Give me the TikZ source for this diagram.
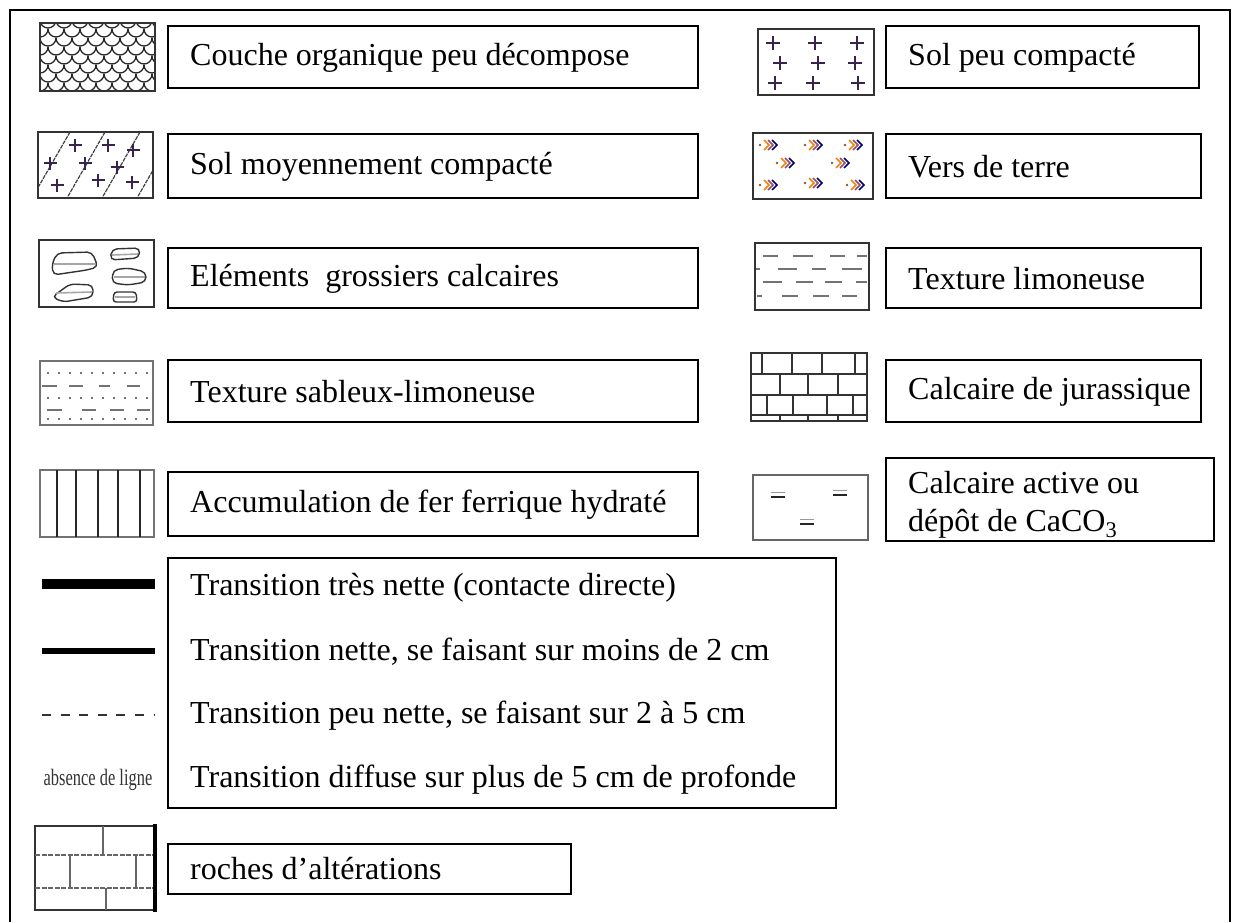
\documentclass[tikz,border=0pt]{standalone}
\usepackage{fontspec}
\setmainfont{Liberation Serif}
\begin{document}
\begin{tikzpicture}[x=1pt,y=-1pt]
\tikzset{
  box/.style={draw, line width=1.6pt, anchor=north west, inner sep=0pt},
  lbl/.style={anchor=west, inner sep=0pt, font=\fontsize{32}{38}\selectfont, align=left},
  sw/.style={draw=black!80, line width=2pt},
  swthin/.style={draw=black!55, line width=1.4pt},
  plusmark/.style={draw={rgb,255:red,55;green,35;blue,75}, line width=1.8pt},
  scale line/.style={draw=black!85, line width=1.3pt},
  diag/.style={draw=black!75, line width=1.2pt, dash pattern=on 4pt off 1pt},
  pebble/.style={draw=black!80, line width=1.4pt, rounded corners=5pt},
  pebblein/.style={draw=black!35, line width=1.6pt},
  texdash/.style={draw=black!55, line width=1.3pt},
  brick/.style={draw=black!80, line width=1.6pt},
  trans/.style={line width=#1, draw=black},
}
\useasboundingbox (0,0) rectangle (1240,922);
% outer frame
\draw[line width=1.3pt] (10,922) -- (10,10) -- (1230,10) -- (1230,922);

% ---------------- left column ----------------
% 1 organic layer (scales)
\begin{scope}
\clip (40,23) rectangle (155,91);
\foreach \r in {0,...,8}{
  \pgfmathsetmacro\off{mod(\r,2)*8}
  \foreach \i in {-1,...,8}{
    \draw[scale line] ({40+\i*16+\off},{20+\r*9}) arc[start angle=180,end angle=0,radius=8];
  }
}
\end{scope}
\draw[sw] (40,23) rectangle (155,91);
\node[box, minimum width=530pt, minimum height=62pt] (b1) at (167,25) {};
\node[lbl] (t1) at ([xshift=23pt,yshift=-1pt]b1.west) {Couche organique peu décompose};

% 2 moderately compacted
\begin{scope}
\clip (38,132) rectangle (153,198);
\foreach \k in {-2,...,4}{
  \draw[diag] ({70+35*\k},132) -- ({32+35*\k},198);
}
\end{scope}
\foreach \p/\q in {75/145,108/145,133/150,50/163,85/163,117/167,57/185,98/180,132/182}{
  \draw[plusmark] (\p-6.5,\q) -- (\p+6.5,\q) (\p,\q-6.5) -- (\p,\q+6.5);
}
\draw[sw] (38,132) rectangle (153,198);
\node[box, minimum width=530pt, minimum height=64pt] (b2) at (167,133) {};
\node[lbl] (t2) at ([xshift=23pt,yshift=-1pt]b2.west) {Sol moyennement compacté};

% 3 coarse limestone elements
\draw[sw, line width=1.8pt] (39,240) rectangle (154,307);
\draw[pebble] (57,253) -- (92,252) -- (98,267) -- (87,270) -- (53,275) -- (52,264) -- cycle;
\draw[pebblein] (54,264) -- (96,264);
\draw[pebble] (52,297) -- (70,284) -- (93,285) -- (93,297) -- (63,302) -- cycle;
\draw[pebblein] (56,293) -- (92,292);
\draw[pebble] (112,249) -- (140,248) -- (139,258) -- (110,260) -- cycle;
\draw[pebblein] (112,255) -- (138,254);
\draw[pebble] (113,270) -- (128,268) -- (146,272) -- (146,282) -- (128,285) -- (112,283) -- cycle;
\draw[pebblein] (114,277) -- (145,277);
\draw[pebble, rounded corners=3pt] (114,292) -- (136,292) -- (137,302) -- (113,302) -- cycle;
\draw[pebblein] (115,297) -- (135,297);
\node[box, minimum width=530pt, minimum height=60pt] (b3) at (167,247) {};
\node[lbl] (t3) at ([xshift=23pt,yshift=-1pt]b3.west) {Eléments\ \ grossiers calcaires};

% 4 sandy-silty texture
\draw[swthin] (40,361) rectangle (153,425);
\draw[texdash, line width=2pt] (40,361) -- (153,361);
\foreach \y in {373,398,419}{
  \foreach \x in {47,58,...,150}{
    \draw[texdash] (\x,\y) -- (\x+2,\y);
  }
}
\foreach \a/\b in {42/57,69/83,99/110,127/140}{\draw[texdash] (\a,386) -- (\b,386);}
\foreach \a/\b in {47/62,82/96,110/124,137/150}{\draw[texdash] (\a,410) -- (\b,410);}
\node[box, minimum width=530pt, minimum height=62pt] (b4) at (167,359) {};
\node[lbl] (t4) at ([xshift=23pt,yshift=-1pt]b4.west) {Texture sableux-limoneuse};

% 5 ferric iron accumulation
\draw[swthin] (40,470) rectangle (154,537);
\foreach \x in {57,76,98,118,140}{\draw[draw=black!85, line width=2pt] (\x,470) -- (\x,537);}
\node[box, minimum width=530pt, minimum height=64pt] (b5) at (167,471) {};
\node[lbl] (t5) at ([xshift=23pt,yshift=-1pt]b5.west) {Accumulation de fer ferrique hydraté};

% transitions
\node[box, minimum width=668pt, minimum height=250pt] (bt) at (167,557) {};
\coordinate (l1a) at (42,584); \coordinate (l1b) at (155,584);
\coordinate (l2a) at (42,651); \coordinate (l2b) at (155,651);
\coordinate (l3a) at (42,715); \coordinate (l3b) at (155,715);
\draw[trans=10pt] (l1a) -- (l1b);
\draw[trans=5.5pt] (l2a) -- (l2b);
\draw[trans=2.5pt, draw=black!80, dash pattern=on 9pt off 9.6pt] (l3a) -- (l3b);
\node[inner sep=0pt, text=black!80] (abs) at (98,780) {\scalebox{0.7}[1]{\fontsize{23.5}{25}\selectfont absence de ligne}};
\node[lbl] (tt1) at (190,588) {Transition très nette (contacte directe)};
\node[lbl] (tt2) at (190,652) {Transition nette, se faisant sur moins de 2 cm};
\node[lbl] (tt3) at (190,716) {Transition peu nette, se faisant sur 2 à 5 cm};
\node[lbl] (tt4) at (190,780) {Transition diffuse sur plus de 5 cm de profonde};

% roches d'altérations
\draw[draw=black!80, line width=1.6pt] (155,826) -- (35,826) -- (35,910) -- (155,910);
\draw[line width=4pt] (155,824) -- (155,912);
\draw[draw=black!60, line width=1.6pt, dash pattern=on 5pt off 1.5pt] (35,855) -- (153,855);
\draw[draw=black!60, line width=1.6pt, dash pattern=on 5pt off 1.5pt] (35,888) -- (153,888);
\draw[draw=black!60, line width=1.3pt] (103,826) -- (103,855);
\draw[draw=black!60, line width=1.3pt] (70,855) -- (70,888) (136,855) -- (136,888);
\draw[draw=black!60, line width=1.3pt] (106,888) -- (106,910);
\node[box, minimum width=403pt, minimum height=50pt] (b6) at (167,843) {};
\node[lbl] (t6) at ([xshift=23pt]b6.west) {roches d’altérations};

% ---------------- right column ----------------
% 1 loosely compacted
\draw[sw] (758,29) rectangle (874,95);
\foreach \p/\q in {773/43,815/43,857/43,780/63,818/63,855/63,775/83,813/83,858/83}{
  \draw[plusmark] (\p-7,\q) -- (\p+7,\q) (\p,\q-7) -- (\p,\q+7);
}
\node[box, minimum width=313pt, minimum height=62pt] (r1) at (885,25) {};
\node[lbl] (s1) at ([xshift=23pt,yshift=-1pt]r1.west) {Sol peu compacté};

% 2 earthworms
\draw[sw] (753,133) rectangle (873,199);
\foreach \p/\q in {770/145,815/145,855/145,787/163,842/163,770/185,815/183,857/185}{
  \fill[brown!70!black] (\p-10,\q) circle (1.3);
  \draw[orange!85!brown, line width=1.6pt] (\p-6,\q-5) -- (\p-1,\q) -- (\p-6,\q+5);
  \draw[orange!60!blue, line width=1.6pt] (\p-2,\q-5) -- (\p+3,\q) -- (\p-2,\q+5);
  \draw[blue!45!black, line width=1.6pt] (\p+2,\q-5) -- (\p+7,\q) -- (\p+2,\q+5);
}
\node[box, minimum width=315pt, minimum height=64pt] (r2) at (885,133) {};
\node[lbl] (s2) at ([xshift=23pt,yshift=-1pt]r2.west) {Vers de terre};

% 3 silty texture
\draw[sw, line width=1.8pt] (755,243) rectangle (869,310);
\foreach \a/\b in {763/778,793/813,830/845,857/867}{\draw[texdash] (\a,256) -- (\b,256);}
\foreach \a/\b in {756/760,778/797,812/826,842/862}{\draw[texdash] (\a,269) -- (\b,269);}
\foreach \a/\b in {763/782,796/813,825/842,856/867}{\draw[texdash] (\a,282) -- (\b,282);}
\foreach \a/\b in {757/762,782/798,813/829,842/857}{\draw[texdash] (\a,296) -- (\b,296);}
\node[box, minimum width=315pt, minimum height=60pt] (r3) at (885,247) {};
\node[lbl] (s3) at ([xshift=23pt,yshift=-1pt]r3.west) {Texture limoneuse};

% 4 Jurassic limestone (bricks)
\draw[brick] (751,353) rectangle (867,421);
\foreach \y in {374,395,415}{\draw[brick] (751,\y) -- (867,\y);}
\foreach \x in {762,792,822,855}{\draw[brick] (\x,353) -- (\x,374);}
\foreach \x in {780,808,838}{\draw[brick] (\x,374) -- (\x,395);}
\foreach \x in {767,793,827,853}{\draw[brick] (\x,395) -- (\x,415);}
\foreach \x in {780,808,838}{\draw[brick] (\x,415) -- (\x,421);}
\node[box, minimum width=315pt, minimum height=62pt] (r4) at (885,359) {};
\node[lbl] (s4) at ([xshift=23pt,yshift=-1pt]r4.west) {Calcaire de jurassique};

% 5 active limestone
\draw[draw=black!60, line width=1.4pt] (753,475) rectangle (868,540);
\foreach \p/\q in {778/495,840/493,807/522}{
  \draw[draw=black!40, line width=1pt] (\p-7,\q-3) -- (\p+7,\q-3);
  \draw[draw=black!85, line width=1.5pt] (\p-7,\q+2) -- (\p+7,\q+2);
}
\node[box, minimum width=328pt, minimum height=83pt] (r5) at (885,457) {};
\node[lbl, anchor=north west] (s5) at (908,471) {Calcaire active ou\\dépôt de CaCO\textsubscript{3}};
\end{tikzpicture}
\end{document}
